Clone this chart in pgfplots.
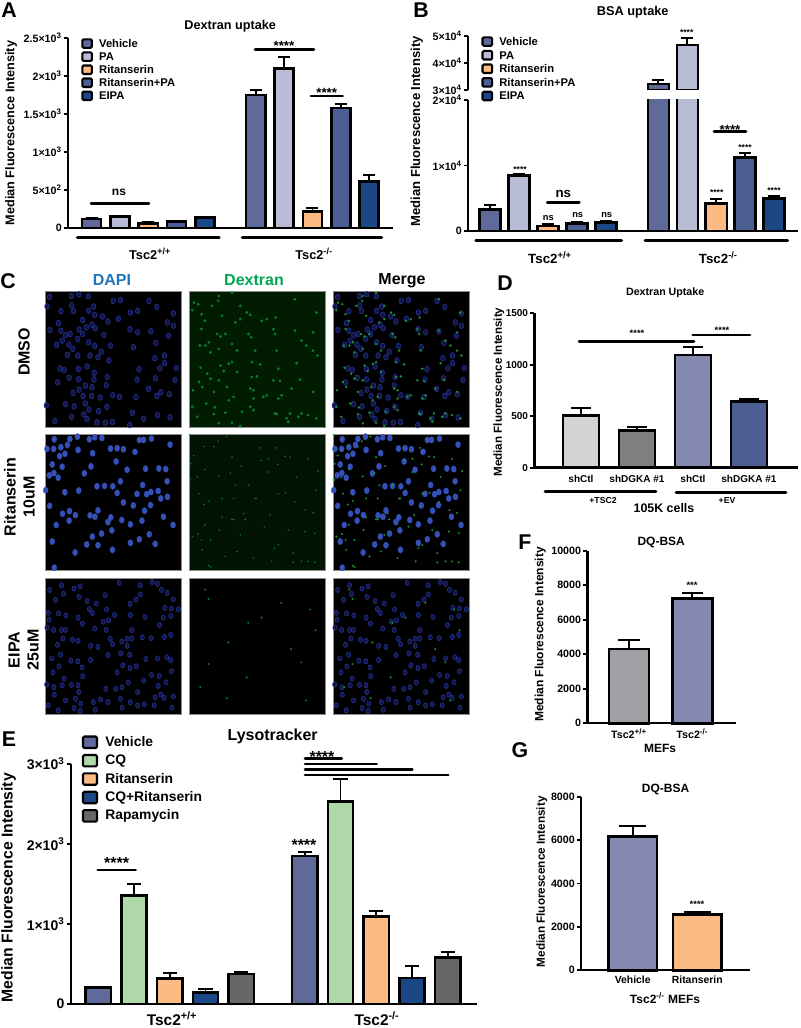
\documentclass[border=0pt]{standalone}
\usepackage{fontspec}
\setmainfont{Liberation Sans}
\usepackage{pgfplots}
\usepackage{pgfplotstable}
\pgfplotsset{compat=1.18}

\definecolor{veh}{HTML}{5F6A9B}
\definecolor{pa}{HTML}{B9BCD5}
\definecolor{rit}{HTML}{FCBB82}
\definecolor{ritpa}{HTML}{4D5E93}
\definecolor{eipa}{HTML}{1C4785}
\definecolor{cq}{HTML}{AFD9A9}
\definecolor{rapa}{HTML}{666766}
\definecolor{ltgr}{HTML}{D3D3D3}
\definecolor{dkgr}{HTML}{7F7F7F}
\definecolor{midgr}{HTML}{A0A0A4}
\definecolor{peri}{HTML}{8489B0}
\definecolor{dapi}{HTML}{1C75BC}
\definecolor{dex}{HTML}{00A651}
\definecolor{nucf}{HTML}{10164C}
\definecolor{nucs}{HTML}{2A369C}
\definecolor{nucb}{HTML}{3550B8}
\definecolor{dexd}{HTML}{0A8034}
\definecolor{dexm}{HTML}{1A9832}
\definecolor{bgone}{HTML}{021C02}
\definecolor{bgtwo}{HTML}{021402}

\newcommand\fs[1]{\fontsize{#1}{#1}\selectfont\bfseries}
\newcommand\pp{\textsuperscript{+/+}}
\newcommand\mm{\textsuperscript{-/-}}
\newcommand\flu{Median Fluorescence Intensity}
\def\swx{7.2pt}\def\swy{3.2pt}\def\swg{3.5pt}

\pgfplotsset{
  px/.style 2 args={at={({(#1)*.75pt},{(1028-(#2))*.75pt})},anchor=south west},
  panel/.style={scale only axis,clip=false,axis lines=left,
    axis line style={-,line width=1.8pt,black},
    tick align=outside,major tick length=3pt,
    tick style={black,line width=1.4pt},
    xtick=\empty,scaled y ticks=false,
    yticklabel style={inner sep=1.5pt},
    ylabel style={anchor=center},
    every axis title shift=0pt,
    title style={anchor=center,inner sep=0pt},
    legend cell align=left},
  b/.style n args={2}{ybar,bar shift=0pt,draw=black,fill=#1,line width=1.85pt,
    error bars/y dir=plus,error bars/y explicit,
    error bars/error bar style={black,line width=1.4pt},
    error bars/error mark options={rotate=90,black,line width=1.4pt,mark size=#2},
    legend image code/.code={\draw[draw=black,fill=#1,line width=1.6pt,rounded corners=1pt]
      (0pt,-\swy) rectangle (\swx,\swy);\path (\swx+\swg,0pt);}},
  cell/.style={scale only axis,width=102pt,height=102pt,
    xmin=0,xmax=411,ymin=0,ymax=411,y dir=reverse,
    xtick=\empty,ytick=\empty,
    axis line style={line width=.6pt,draw=black!45},
    axis background/.style={fill=#1}},
  nucd/.style={only marks,mark=*,mark size=#1,
    mark options={xscale=.8,fill=nucf,draw=nucs,line width=.35pt}},
  nucb/.style={only marks,mark=*,mark size=2.4pt,
    mark options={xscale=.8,fill=nucb,draw=nucb,line width=.2pt}},
  dexa/.style={only marks,mark=*,mark size=#1,mark options={fill=dexd,draw=dexd,line width=.1pt}},
  dexm/.style={only marks,mark=*,mark size=#1,mark options={fill=dexm,draw=dexm,line width=.1pt}},
}

% nuclei and dextran spots (0-411 across and down)
\pgfplotstableread[row sep=\\]{x y\\
14 18\\80 15\\102 10\\131 16\\206 30\\228 28\\314 30\\6 47\\80 43\\147 47\\86 60\\48 61\\132 60\\150 72\\
174 77\\338 48\\258 65\\280 60\\388 68\\222 84\\190 92\\114 88\\41 97\\370 95\\388 105\\142 102\\125 110\\
103 116\\152 113\\15 118\\48 120\\257 116\\280 125\\320 122\\178 133\\373 135\\62 133\\76 130\\99 145\\
114 130\\132 155\\52 150\\35 163\\150 166\\198 165\\267 170\\335 157\\72 162\\84 175\\68 193\\99 195\\
136 195\\170 184\\160 200\\193 210\\332 203\\361 195\\361 218\\127 228\\45 234\\58 239\\101 236\\347 234\\
397 233\\284 237\\149 247\\73 262\\101 267\\188 260\\148 267\\38 276\\278 268\\334 264\\393 269\\185 285\\
122 286\\142 291\\103 298\\85 308\\313 296\\350 306\\376 312\\115 317\\141 317\\167 322\\205 315\\225 320\\
275 321\\338 317\\62 342\\88 349\\122 340\\187 350\\4 346\\133 358\\162 363\\264 368\\117 373\\80 380\\
127 387\\30 393\\157 397\\182 398\\204 396\\298 386\\340 375\\378 382\\256 405\\}\nuca
\pgfplotstableread[row sep=\\]{x y\\
28 16\\75 15\\98 8\\134 16\\150 10\\172 12\\285 18\\298 18\\322 14\\378 32\\48 40\\6 45\\26 45\\68 33\\
100 48\\144 58\\198 44\\218 43\\237 46\\272 54\\60 60\\44 67\\215 83\\22 92\\52 99\\139 98\\248 108\\304 105\\
344 104\\365 106\\119 119\\13 125\\27 118\\40 132\\157 158\\180 157\\205 158\\228 143\\295 154\\369 143\\
2 170\\60 176\\102 171\\218 178\\278 181\\307 182\\320 175\\342 172\\350 195\\370 190\\14 217\\237 207\\
267 216\\319 215\\301 232\\74 233\\92 245\\53 241\\160 231\\136 246\\151 250\\73 262\\199 252\\190 266\\
232 260\\258 273\\293 262\\358 250\\34 275\\387 275\\171 301\\202 291\\143 310\\315 303\\285 318\\22 325\\
126 334\\160 336\\258 329\\333 332\\204 350\\91 358\\28 404\\}\nucb
\pgfplotstableread[row sep=\\]{x y\\
14 36\\50 22\\56 48\\88 32\\106 25\\32 66\\103 57\\127 70\\182 52\\155 77\\257 78\\288 22\\324 12\\340 18\\
352 36\\369 45\\388 65\\288 50\\275 65\\224 15\\134 94\\143 106\\186 95\\362 90\\382 92\\10 105\\41 107\\
63 113\\100 120\\12 126\\210 112\\258 112\\302 118\\357 120\\380 115\\176 132\\192 128\\346 142\\6 150\\
26 157\\50 157\\62 157\\113 138\\150 153\\185 157\\262 158\\403 95\\54 183\\83 187\\100 190\\294 179\\
321 182\\361 178\\380 172\\197 184\\232 192\\248 184\\262 183\\38 202\\138 205\\160 208\\204 200\\248 205\\
229 228\\256 232\\190 233\\47 232\\20 243\\138 248\\78 250\\99 252\\305 245\\340 243\\368 240\\380 248\\
42 267\\24 285\\112 270\\235 264\\257 272\\276 267\\218 285\\322 293\\345 296\\382 282\\114 297\\58 304\\
298 310\\366 315\\5 322\\27 330\\52 324\\80 323\\100 324\\233 330\\252 316\\184 335\\214 335\\342 326\\
280 345\\350 352\\102 345\\28 353\\92 365\\62 370\\146 375\\168 367\\190 375\\228 365\\258 375\\333 360\\
360 362\\388 358\\88 393\\108 380\\10 385\\40 400\\233 392\\280 385\\300 382\\330 385\\384 392\\152 398\\106 402\\}\nucc
\pgfplotstableread[row sep=\\]{x y\\
15 35\\28 40\\10 58\\38 70\\90 15\\88 30\\130 5\\70 45\\100 75\\155 45\\320 25\\385 65\\175 65\\185 72\\
140 95\\155 85\\220 90\\235 85\\262 80\\48 90\\38 115\\110 130\\95 137\\60 155\\50 165\\33 165\\85 130\\
180 130\\188 140\\255 115\\260 130\\320 120\\375 125\\130 160\\145 180\\65 185\\90 175\\200 180\\340 150\\
355 165\\375 180\\265 180\\388 195\\35 232\\95 225\\120 220\\130 215\\190 215\\215 222\\145 245\\105 242\\
325 218\\270 235\\55 250\\65 265\\90 270\\30 275\\190 260\\205 258\\255 270\\275 272\\335 268\\115 290\\
185 295\\195 300\\75 305\\40 290\\310 295\\375 305\\12 300\\135 320\\195 325\\225 320\\235 315\\280 315\\
270 325\\120 330\\52 340\\10 350\\185 350\\195 360\\78 352\\110 368\\160 365\\25 380\\75 372\\265 372\\
260 370\\295 385\\305 370\\330 380\\360 375\\385 385\\90 400\\130 398\\155 408\\340 370\\300 395\\}\dexa
\pgfplotstableread[row sep=\\]{x y\\
14 65\\4 138\\27 302\\38 320\\65 320\\375 238\\292 178\\113 8\\87 22\\130 70\\48 107\\90 128\\125 118\\
140 155\\135 195\\60 203\\100 195\\270 180\\352 230\\385 170\\258 345\\315 360\\48 275\\92 290\\155 305\\
245 245\\170 258\\165 240\\203 195\\262 42\\213 42\\240 75\\290 68\\360 75\\390 112\\325 130\\158 97\\
218 80\\30 180\\45 213\\100 252\\135 258\\228 280\\300 290\\350 295\\380 300\\195 375\\270 335\\60 398\\
65 402\\145 355\\40 350\\10 310\\110 370\\340 385\\360 385\\380 388\\250 385\\315 388\\200 195\\75 38\\
45 38\\180 155\\320 205\\240 115\\268 92\\305 70\\130 258\\5 90\\25 130\\3 3\\}\dexb
\pgfplotstableread[row sep=\\]{x y\\
219 120\\114 363\\49 35\\59 63\\279 75\\366 95\\382 158\\119 195\\309 215\\179 135\\339 255\\34 330\\
354 370\\59 260\\174 300\\}\dexc

\newcommand\stars[4]{\node[font=\fs{#3},inner sep=0pt] at (#1,#2) {\smash{\raisebox{-.58em}{#4}}};}
\newcommand\lab[4]{\node[font=\fs{#3},inner sep=0pt] at (#1,#2) {#4};}
\newcommand\rlab[4]{\node[font=\fs{#3},inner sep=0pt,rotate=90] at (#1,#2) {#4};}
\newcommand\sig[3]{\draw[line width=2pt,line cap=round] (#1,#3) -- (#2,#3);}

\begin{document}
\begin{tikzpicture}
\path[use as bounding box] (0,0) rectangle (600pt,771pt);

% A
\begin{axis}[panel,px={68}{228},width=243.75pt,height=142.5pt,
  xmin=-0.83,xmax=10.63,ymin=0,ymax=2500,bar width=14.3pt,
  ytick={0,500,1000,1500,2000,2500},
  yticklabels={0,5×10\textsuperscript{2},1×10\textsuperscript{3},1.5×10\textsuperscript{3},2×10\textsuperscript{3},2.5×10\textsuperscript{3}},
  yticklabel style={font=\fs{8}},
  title={Dextran uptake},title style={font=\fs{9.5},at={(axis description cs:.499,1.063)}},
  ylabel={\flu},ylabel style={font=\fs{9.5},at={(axis description cs:-.175,.5)}},
  legend style={at={(axis description cs:.04,1.0)},anchor=north west,draw=none,fill=none,
    font=\fs{8.4},row sep=1.8pt,inner sep=0pt,nodes={text height=6pt,text depth=0pt,inner sep=1pt}}]
\addplot[b={veh}{4.5pt}] coordinates {(0,120) +- (0,15) (5.79,1750) +- (0,70)};
\addlegendentry{Vehicle}
\addplot[b={pa}{4.5pt}] coordinates {(1,150) +- (0,15) (6.79,2100) +- (0,150)};
\addlegendentry{PA}
\addplot[b={rit}{4.5pt}] coordinates {(2,60) +- (0,15) (7.79,215) +- (0,45)};
\addlegendentry{Ritanserin}
\addplot[b={ritpa}{4.5pt}] coordinates {(3,85) +- (0,12) (8.79,1580) +- (0,55)};
\addlegendentry{Ritanserin+PA}
\addplot[b={eipa}{4.5pt}] coordinates {(4,135) +- (0,10) (9.79,610) +- (0,85)};
\addlegendentry{EIPA}
\end{axis}

% B, lower part of the broken axis
\begin{axis}[panel,clip=true,px={468}{231},width=247.5pt,height=98.25pt,
  xmin=-0.76,xmax=10.62,ymin=0,ymax=20000,bar width=15.75pt,
  ytick={0,10000,20000},
  yticklabels={0,1×10\textsuperscript{4},2×10\textsuperscript{4}},
  yticklabel style={font=\fs{8}},
  ylabel={\flu},ylabel style={font=\fs{9.8},at={(axis description cs:-.155,.76)}}]
\addplot[b={veh}{4.5pt}] coordinates {(0,3300) +- (0,670) (5.80,32200) +- (0,1500)};
\addplot[b={pa}{4.5pt}] coordinates {(1,8450) +- (0,250) (6.80,46700) +- (0,2400)};
\addplot[b={rit}{4.5pt}] coordinates {(2,760) +- (0,250) (7.80,4220) +- (0,720)};
\addplot[b={ritpa}{4.5pt}] coordinates {(3,1170) +- (0,250) (8.80,11200) +- (0,660)};
\addplot[b={eipa}{4.5pt}] coordinates {(4,1320) +- (0,260) (9.80,4940) +- (0,400)};
\end{axis}
% B, upper part
\begin{axis}[panel,clip=true,axis x line=none,px={468}{90},width=247.5pt,height=40.5pt,
  xmin=-0.76,xmax=10.62,ymin=30000,ymax=50000,bar width=15.75pt,
  ytick={30000,40000,50000},
  yticklabels={3×10\textsuperscript{4},4×10\textsuperscript{4},5×10\textsuperscript{4}},
  yticklabel style={font=\fs{8}},
  legend style={at={(axis description cs:.04,1.0)},anchor=north west,draw=none,fill=none,
    font=\fs{8.4},row sep=2.2pt,inner sep=0pt,nodes={text height=6pt,text depth=0pt,inner sep=1pt}}]
\addplot[b={veh}{4.5pt},forget plot] coordinates {(5.80,32200) +- (0,1500)};
\addplot[b={pa}{4.5pt},forget plot] coordinates {(6.80,46700) +- (0,2400)};
\addlegendimage{b={veh}{4.5pt}}\addlegendentry{Vehicle}
\addlegendimage{b={pa}{4.5pt}}\addlegendentry{PA}
\addlegendimage{b={rit}{4.5pt}}\addlegendentry{Ritanserin}
\addlegendimage{b={ritpa}{4.5pt}}\addlegendentry{Ritanserin+PA}
\addlegendimage{b={eipa}{4.5pt}}\addlegendentry{EIPA}
\end{axis}

% C, image panels
\begin{axis}[cell=black,px={45}{427}]
\addplot[nucd=2.2pt] table {\nuca};
\end{axis}
\begin{axis}[cell=bgone,px={189}{427}]
\addplot[dexa=1pt] table {\dexa};
\end{axis}
\begin{axis}[cell=black,px={333}{427}]
\addplot[nucd=2.2pt] table {\nuca};
\addplot[dexm=.85pt] table {\dexa};
\end{axis}
\begin{axis}[cell=black,px={45}{570}]
\addplot[nucb] table {\nucb};
\end{axis}
\begin{axis}[cell=bgtwo,px={189}{570}]
\addplot[dexa=.5pt] table {\dexb};
\end{axis}
\begin{axis}[cell=black,px={333}{570}]
\addplot[nucb] table {\nucb};
\addplot[dexm=.7pt] table {\dexb};
\end{axis}
\begin{axis}[cell=black,px={45}{714}]
\addplot[nucd=2pt] table {\nucc};
\end{axis}
\begin{axis}[cell=black,px={189}{714}]
\addplot[dexa=.7pt] table {\dexc};
\end{axis}
\begin{axis}[cell=black,px={333}{714}]
\addplot[nucd=2pt] table {\nucc};
\addplot[dexm=.7pt] table {\dexc};
\end{axis}

% D
\begin{axis}[panel,px={534.3}{467.7},width=197.5pt,height=115.8pt,
  xmin=-0.834,xmax=3.87,ymin=0,ymax=1500,bar width=27pt,
  ytick={0,500,1000,1500},yticklabels={0,500,1000,1500},
  yticklabel style={font=\fs{7.5}},
  xtick={0,1,2,3},xticklabels={shCtl,shDGKA \#1,shCtl,shDGKA \#1},
  xticklabel style={font=\fs{7.5},inner sep=1pt,yshift=-1.5pt},major x tick style={draw=none},
  title={Dextran Uptake},title style={font=\fs{8},at={(axis description cs:.497,1.13)}},
  ylabel={\flu},ylabel style={font=\fs{8.7},at={(axis description cs:-.135,.49)}}]
\addplot[b={ltgr}{7.5pt}] coordinates {(0,505) +- (0,75)};
\addplot[b={dkgr}{7.5pt}] coordinates {(1,360) +- (0,32)};
\addplot[b={peri}{7.5pt}] coordinates {(2,1095) +- (0,81)};
\addplot[b={ritpa}{7.5pt}] coordinates {(3,641) +- (0,29)};
\end{axis}

% E
\def\swx{10.5pt}\def\swy{4.3pt}\def\swg{5pt}
\begin{axis}[panel,px={70.7}{1004},width=304.75pt,height=180pt,
  xmin=-0.773,xmax=10.6,ymin=0,ymax=3000,bar width=19pt,
  ytick={0,1000,2000,3000},
  yticklabels={0,1×10\textsuperscript{3},2×10\textsuperscript{3},3×10\textsuperscript{3}},
  yticklabel style={font=\fs{10.5}},
  title={Lysotracker},title style={font=\fs{12},at={(axis description cs:.497,1.117)}},
  ylabel={\flu},ylabel style={font=\fs{11.8},at={(axis description cs:-.153,.485)}},
  legend style={at={(axis description cs:.027,1.12)},anchor=north west,draw=none,fill=none,
    font=\fs{10.4},row sep=3.6pt,inner sep=0pt,nodes={text height=7.5pt,text depth=1.5pt,inner sep=.3pt}}]
\addplot[b={veh}{5.4pt}] coordinates {(0,204) +- (0,13) (5.78,1850) +- (0,54)};
\addlegendentry{Vehicle}
\addplot[b={cq}{5.4pt}] coordinates {(1,1354) +- (0,150) (6.78,2533) +- (0,280)};
\addlegendentry{CQ}
\addplot[b={rit}{5.4pt}] coordinates {(2,317) +- (0,66) (7.78,1092) +- (0,66)};
\addlegendentry{Ritanserin}
\addplot[b={eipa}{5.4pt}] coordinates {(3,142) +- (0,41) (8.78,325) +- (0,150)};
\addlegendentry{CQ+Ritanserin}
\addplot[b={rapa}{5.4pt}] coordinates {(4,375) +- (0,21) (9.78,583) +- (0,63)};
\addlegendentry{Rapamycin}
\end{axis}

% F
\begin{axis}[panel,px={587.3}{723.3},width=111.5pt,height=129.5pt,
  xmin=-0.659,xmax=1.69,ymin=0,ymax=10000,bar width=30pt,
  ytick={0,2000,4000,6000,8000,10000},yticklabels={0,2000,4000,6000,8000,10000},
  yticklabel style={font=\fs{8}},
  xtick={0,1},xticklabels={Tsc2\pp,Tsc2\mm},
  xticklabel style={font=\fs{8},inner sep=1pt},major x tick style={draw=none},
  title={DQ-BSA},title style={font=\fs{9},at={(axis description cs:.497,1.05)}},
  ylabel={\flu},ylabel style={font=\fs{9},at={(axis description cs:-.317,.515)}}]
\addplot[b={midgr}{8pt}] coordinates {(0,4305) +- (0,500)};
\addplot[b={peri}{8pt}] coordinates {(1,7240) +- (0,330)};
\end{axis}

% G
\begin{axis}[panel,px={581}{970.3},width=126.75pt,height=130.2pt,
  xmin=-0.8,xmax=1.816,ymin=0,ymax=8000,bar width=36.4pt,
  ytick={0,2000,4000,6000,8000},yticklabels={0,2000,4000,6000,8000},
  yticklabel style={font=\fs{8}},
  xtick={0,1},xticklabels={Vehicle,Ritanserin},
  xticklabel style={font=\fs{7.8},inner sep=1pt},major x tick style={draw=none},
  title={DQ-BSA},title style={font=\fs{9},at={(axis description cs:.5,1.04)}},
  ylabel={\flu},ylabel style={font=\fs{8.8},at={(axis description cs:-.232,.51)}}]
\addplot[b={peri}{10pt}] coordinates {(0,6157) +- (0,510)};
\addplot[b={rit}{10pt}] coordinates {(1,2564) +- (0,123)};
\end{axis}

% everything below is placed in the picture's own pixels
\begin{scope}[x=.75pt,y=-.75pt,yshift=771pt]
\lab{9}{10}{16}{A}\lab{421}{10}{16}{B}\lab{8}{281}{16}{C}\lab{505}{283}{16}{D}
\lab{9}{739}{16}{E}\lab{525}{542}{16}{F}\lab{520}{750}{16}{G}

% A
\sig{91}{149}{203.3}\lab{119}{192}{9}{ns}
\sig{255}{314}{49.3}\stars{284}{43}{10}{****}
\sig{311}{342.7}{96}\stars{326.7}{90}{10}{****}
\sig{77.3}{219.3}{237.7}\sig{242.3}{381.7}{237.3}
\lab{150}{253.5}{9.6}{Tsc2\pp}\lab{314}{253.5}{9.6}{Tsc2\mm}
% B
\lab{632.7}{12.7}{9.6}{BSA uptake}
\stars{520}{168}{6.4}{****}\stars{686.7}{30.7}{6.4}{****}\stars{716.7}{190.7}{6.4}{****}
\stars{745}{146}{6.4}{****}\stars{774}{189}{6.4}{****}
\lab{548.3}{218.3}{7}{ns}\lab{577.7}{215}{7}{ns}\lab{606.7}{215}{7}{ns}
\lab{563.3}{194.3}{10}{ns}\sig{547.3}{579.3}{202.7}
\stars{730}{126.7}{10}{****}\sig{714}{746}{131.3}
\sig{475.7}{621.7}{240.7}\sig{645}{787.7}{240.3}
\lab{550}{257.5}{10}{Tsc2\pp}\lab{718.3}{257.5}{10}{Tsc2\mm}
% C
\node[font=\fs{12},text=dapi,inner sep=0pt] at (112,280) {DAPI};
\node[font=\fs{12},text=dex,inner sep=0pt] at (254,280) {Dextran};
\lab{402}{281}{12}{Merge}
\rlab{24}{352}{12}{DMSO}
\rlab{10}{497}{12}{Ritanserin}\rlab{29}{497}{12}{10uM}
\rlab{14}{650}{12}{EIPA}\rlab{33}{650}{12}{25uM}
% D
\sig{579}{694}{341.7}\stars{637}{331}{7}{****}
\sig{692.7}{750}{335}\stars{722}{327.7}{7}{****}
\sig{545}{656}{491.7}\sig{676}{786}{492.3}
\lab{603}{500.7}{6.5}{+TSC2}\lab{727}{500.7}{6.5}{+EV}\lab{664}{507.7}{9.3}{105K cells}
% E
\sig{97.7}{135.7}{870}\stars{116.7}{859}{12}{****}
\stars{304}{841.7}{12}{****}\stars{322}{753}{12}{****}
\sig{305}{341.7}{758.7}\sig{305}{376.7}{764}\sig{305}{412.3}{769.7}\sig{305}{448.3}{775}
\lab{172}{1019}{11.6}{Tsc2\pp}\lab{377}{1019}{11.6}{Tsc2\mm}
% F
\stars{692}{583}{7}{***}\lab{660}{748}{9}{MEFs}
% G
\stars{697}{901.7}{7}{****}\lab{665}{998}{9}{Tsc2\mm\ MEFs}
\end{scope}
\end{tikzpicture}
\end{document}
